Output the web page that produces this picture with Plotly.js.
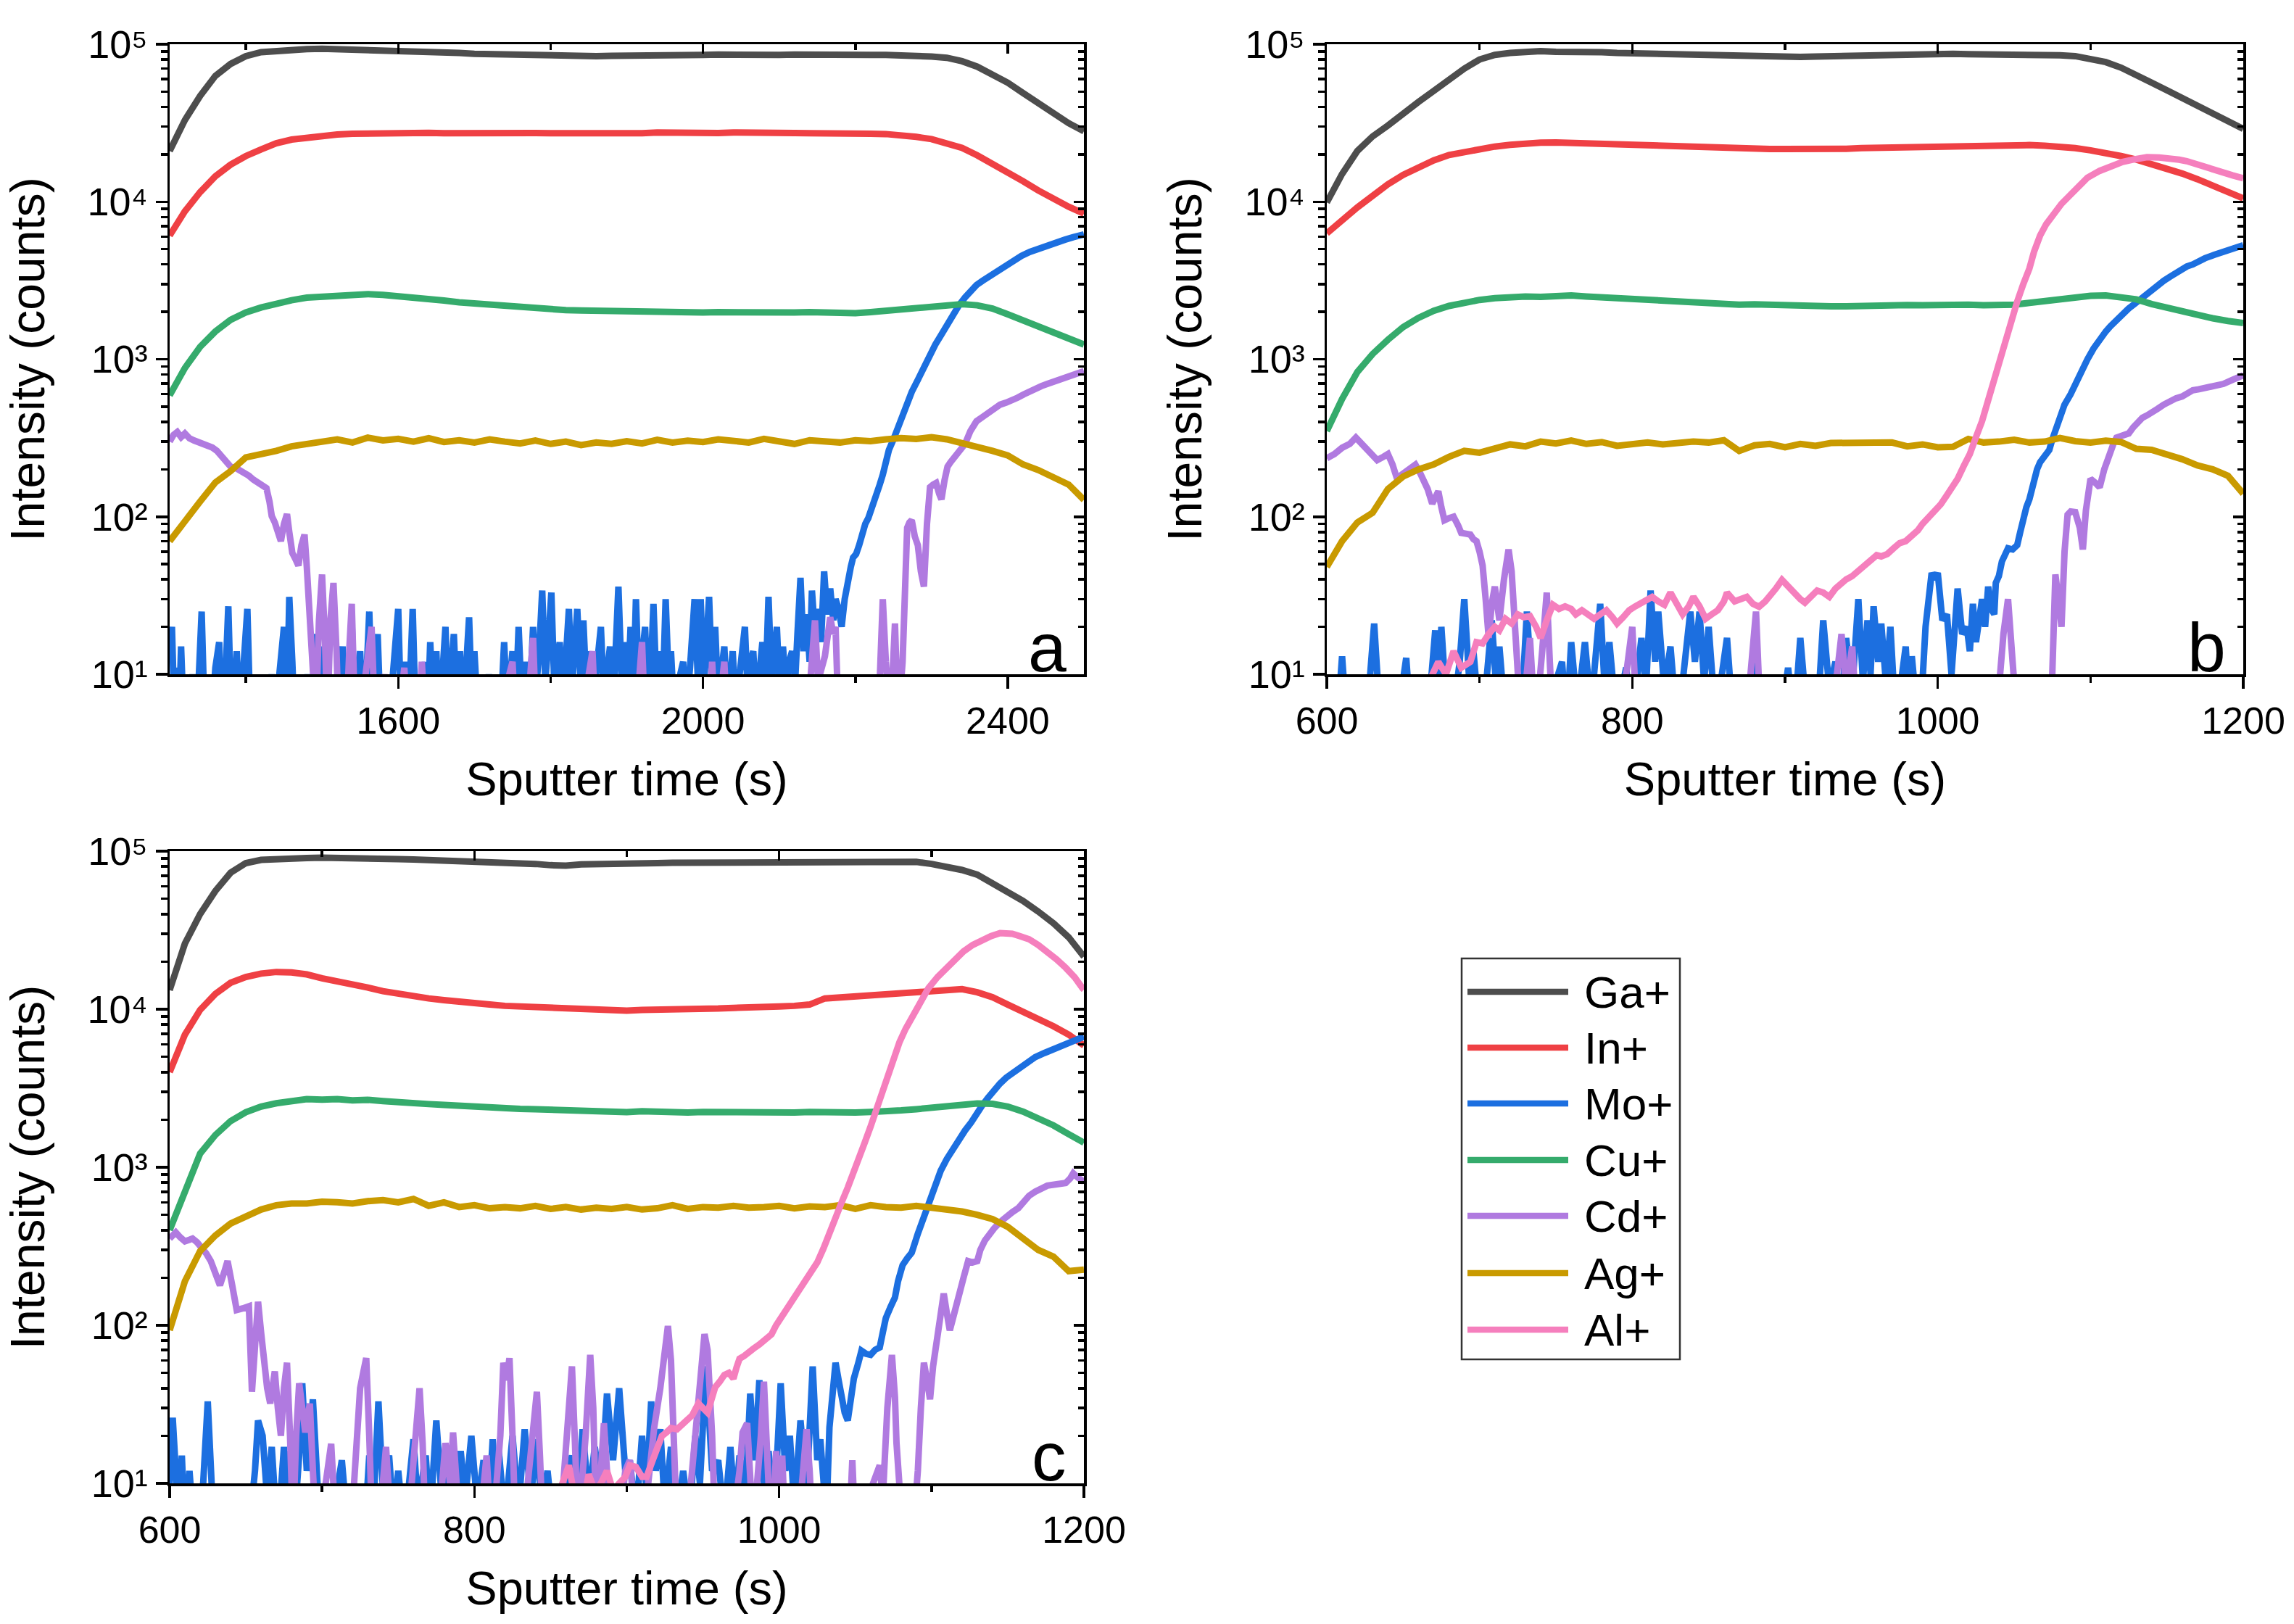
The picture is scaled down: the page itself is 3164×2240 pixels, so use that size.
<!DOCTYPE html>
<html><head><meta charset="utf-8">
<script src="https://cdn.plot.ly/plotly-3.0.1.min.js"></script>
<style>html,body{margin:0;padding:0;background:#fff}#chart{width:3164px;height:2240px}</style>
</head><body><div id="chart"></div>
<script>
// ---------------- DATA ----------------
const species = ['Ga+','In+','Mo+','Cu+','Cd+','Ag+','Al+'];
const colors = {'Ga+':'#4d4d4d','In+':'#ef4044','Mo+':'#1c6fe0','Cu+':'#35ab6c','Cd+':'#b07ae0','Ag+':'#c99a00','Al+':'#f57fbd'};
const yTickVals = [10,100,1000,10000,100000];
const yTickText = ['10\u00B9','10\u00B2','10\u00B3','10\u2074','10\u2075'];

// Panel a (sputter time grid, s)
const a_t = [1300,1320,1340,1360,1380,1400,1420,1440,1460,1480,1500,1520,1540,1560,1580,1600,1620,1640,1660,1680,1700,1720,1740,1760,1780,1800,1820,1840,1860,1880,1900,1920,1940,1960,1980,2000,2020,2040,2060,2080,2100,2120,2140,2160,2180,2200,2220,2240,2260,2280,2300,2320,2340,2360,2380,2400,2420,2440,2460,2480,2500];
const a_Ga = [21000,33000,47000,63000,75000,84000,89000,91000,92500,93000,93500,93000,93500,92500,92000,91500,90500,89500,89000,88000,87000,86500,85500,85000,84500,84000,84000,84500,84000,84500,85000,85000,85500,85000,85500,85500,86000,85500,85500,86000,85500,86000,85500,85500,86000,85500,85500,85500,85000,85000,83500,82000,78000,72000,64000,57000,49000,42000,36000,31500,28000];
const a_In = [6100,8700,11500,14500,17200,19500,21500,23500,24800,25600,26200,26700,27000,27200,27100,27300,27200,27400,27200,27300,27100,27300,27200,27100,27300,27200,27100,27300,27200,27400,27300,27200,27500,27300,27400,27200,27300,27500,27300,27200,27400,27300,27200,27300,27100,27200,27000,26900,26500,25800,25000,23500,22000,19700,17500,15500,13500,11800,10400,9300,8400];
const a_Cu = [590,880,1200,1500,1780,1980,2130,2260,2370,2460,2500,2540,2560,2590,2560,2520,2460,2410,2360,2300,2260,2220,2170,2120,2100,2070,2050,2040,2030,2010,2000,2000,1990,2000,1990,1980,1990,1980,1990,1970,1990,1980,1990,1970,1950,1960,1990,2030,2070,2130,2190,2220,2240,2200,2100,1930,1760,1600,1460,1340,1240];
const a_Ag = [70,92,125,165,195,238,248,262,280,290,300,310,296,318,305,312,300,315,298,306,296,310,300,292,305,290,300,285,296,290,302,292,308,296,304,298,310,300,296,312,302,290,306,300,296,306,302,310,316,312,320,310,295,282,262,245,215,198,180,160,128];
const a_Mo = [[1300,12],[1303,20],[1306,6],[1309,11],[1312,5],[1315,15],[1318,6],[1322,8],[1326,5],[1330,10],[1334,5],[1338,9],[1342,25],[1346,5],[1350,8],[1355,5],[1360,11],[1365,16],[1368,5],[1373,9],[1377,27],[1381,5],[1385,8],[1388,14],[1392,5],[1397,10],[1402,26],[1406,5],[1412,8],[1418,5],[1424,7],[1430,5],[1434,10],[1438,5],[1444,9],[1450,20],[1454,6],[1457,31],[1461,12],[1464,5],[1470,8],[1476,5],[1481,10],[1486,5],[1492,18],[1496,6],[1500,15],[1504,5],[1510,9],[1516,5],[1522,8],[1527,15],[1531,5],[1535,9],[1539,22],[1543,6],[1547,11],[1550,14],[1554,5],[1558,9],[1562,25],[1566,6],[1570,10],[1573,18],[1577,5],[1582,8],[1588,5],[1594,11],[1600,26],[1604,5],[1609,12],[1614,6],[1619,26],[1623,5],[1628,9],[1632,5],[1635,12],[1639,6],[1642,16],[1646,6],[1650,14],[1654,5],[1658,10],[1662,20],[1666,6],[1669,11],[1673,18],[1677,6],[1681,14],[1685,5],[1689,11],[1693,23],[1697,6],[1700,14],[1705,5],[1710,9],[1715,5],[1719,10],[1724,5],[1729,8],[1734,5],[1739,16],[1743,6],[1747,10],[1750,14],[1754,6],[1758,20],[1762,7],[1767,12],[1772,6],[1777,20],[1781,8],[1785,14],[1789,34],[1793,9],[1797,16],[1801,33],[1805,8],[1809,12],[1812,16],[1816,6],[1820,12],[1824,26],[1828,8],[1832,14],[1835,26],[1839,10],[1843,22],[1847,8],[1851,14],[1855,6],[1860,11],[1866,20],[1870,7],[1874,11],[1878,15],[1882,6],[1886,14],[1889,36],[1893,10],[1897,16],[1901,7],[1905,20],[1909,9],[1912,30],[1916,8],[1920,14],[1924,20],[1928,7],[1932,12],[1935,28],[1939,8],[1943,14],[1947,7],[1951,30],[1955,9],[1958,14],[1962,6],[1968,9],[1974,12],[1978,6],[1983,11],[1989,30],[1993,10],[1997,30],[2001,8],[2004,14],[2008,31],[2012,9],[2016,20],[2020,7],[2024,11],[2028,15],[2032,6],[2036,10],[2039,14],[2043,6],[2048,10],[2055,20],[2059,7],[2062,12],[2066,14],[2070,6],[2074,10],[2078,16],[2082,8],[2086,31],[2090,9],[2094,14],[2097,20],[2101,7],[2105,15],[2109,8],[2113,12],[2117,14],[2121,9],[2124,18],[2128,41],[2132,14],[2136,24],[2140,12],[2143,34],[2147,18],[2151,26],[2155,16],[2159,45],[2163,24],[2167,35],[2171,22],[2174,30],[2178,26],[2182,20],[2186,30],[2190,41],[2194,48],[2197,55],[2201,58],[2205,66],[2209,80],[2213,90],[2217,98],[2220,107],[2224,120],[2228,137],[2232,160],[2236,185],[2240,220],[2244,265],[2250,310],[2255,359],[2261,430],[2267,515],[2274,620],[2282,740],[2290,900],[2298,1062],[2305,1240],[2313,1435],[2321,1680],[2328,1940],[2336,2200],[2344,2470],[2351,2720],[2359,2960],[2367,3150],[2375,3340],[2382,3550],[2390,3770],[2398,4000],[2406,4250],[2418,4530],[2429,4800],[2440,5030],[2452,5250],[2463,5500],[2475,5740],[2486,5960],[2498,6180],[2500,6200]];
const a_Cd = [[1300,300],[1305,330],[1310,345],[1315,320],[1320,338],[1326,315],[1332,305],[1338,298],[1344,290],[1350,285],[1356,275],[1362,262],[1368,245],[1374,222],[1380,208],[1386,205],[1392,198],[1398,190],[1404,182],[1410,172],[1416,165],[1422,158],[1427,152],[1431,125],[1434,101],[1438,92],[1442,80],[1446,70],[1450,90],[1454,104],[1457,80],[1461,59],[1465,54],[1469,49],[1473,66],[1477,77],[1480,48],[1484,27],[1488,12],[1492,5],[1496,22],[1500,43],[1504,16],[1507,5],[1511,22],[1515,38],[1519,14],[1522,5],[1527,8],[1532,5],[1536,15],[1539,28],[1543,6],[1550,5],[1556,9],[1560,14],[1565,20],[1569,6],[1576,5],[1582,10],[1586,5],[1594,8],[1600,5],[1608,11],[1612,5],[1620,6],[1627,5],[1631,12],[1635,5],[1645,7],[1652,5],[1662,9],[1668,5],[1680,6],[1690,5],[1700,8],[1706,5],[1720,7],[1730,5],[1750,12],[1754,5],[1772,8],[1777,17],[1781,5],[1800,6],[1810,5],[1830,7],[1840,5],[1855,14],[1859,5],[1880,6],[1890,5],[1916,9],[1920,16],[1924,5],[1950,6],[1960,5],[2000,7],[2008,5],[2012,12],[2016,5],[2024,8],[2028,12],[2032,5],[2060,6],[2070,5],[2100,7],[2110,5],[2140,8],[2147,22],[2151,9],[2160,13],[2167,23],[2171,18],[2174,20],[2178,5],[2200,6],[2230,5],[2236,30],[2240,12],[2246,5],[2252,21],[2256,5],[2262,12],[2268,85],[2271,92],[2274,95],[2278,75],[2282,66],[2286,45],[2290,36],[2294,90],[2298,154],[2302,160],[2306,164],[2310,140],[2313,129],[2317,170],[2321,208],[2325,222],[2329,235],[2336,262],[2344,290],[2351,350],[2359,404],[2367,430],[2375,457],[2382,490],[2390,515],[2398,530],[2406,547],[2413,570],[2421,598],[2429,625],[2436,656],[2444,675],[2452,697],[2463,725],[2475,762],[2486,800],[2498,834],[2500,840]];

// Panels b and c (sputter time grid, s)
const bc_t = [600,610,620,630,640,650,660,670,680,690,700,710,720,730,740,750,760,770,780,790,800,810,820,830,840,850,860,870,880,890,900,910,920,930,940,950,960,970,980,990,1000,1010,1020,1030,1040,1050,1060,1070,1080,1090,1100,1110,1120,1130,1140,1150,1160,1170,1180,1190,1200];

const b_Ga = [9900,15000,21000,26000,30500,36500,43000,50500,59500,70000,80000,85500,88000,90000,90500,89500,90000,90500,89000,88000,87500,87000,86000,85500,85000,84500,84000,84000,83500,83000,82500,83000,83500,84000,84500,85000,85500,86000,86500,86500,86500,87000,86500,86500,86000,86000,85500,85500,85000,84000,81000,77000,71000,63000,57000,51000,45500,41000,36500,32500,29000];
const b_In = [6300,7700,9200,10900,12900,14800,16500,18300,19800,20700,21600,22400,23000,23500,23700,23800,23600,23500,23300,23200,23100,22900,22800,22600,22300,22100,22000,21800,21700,21600,21600,21500,21600,21700,21700,21900,22000,22200,22400,22600,22700,22900,23000,23100,23100,23000,22900,22700,22400,21900,21200,20500,19500,18500,17400,16300,15100,13900,12700,11600,10500];
const b_Cu = [350,560,830,1080,1330,1600,1830,2030,2180,2300,2380,2440,2480,2500,2490,2520,2540,2500,2470,2440,2420,2380,2340,2320,2290,2260,2240,2220,2230,2210,2220,2200,2180,2170,2170,2190,2180,2200,2210,2200,2220,2210,2220,2200,2190,2220,2280,2340,2420,2490,2530,2540,2480,2400,2240,2120,2000,1900,1820,1750,1700];
const b_Ag = [48,70,92,106,150,180,200,215,240,262,255,270,288,280,300,292,305,290,298,282,292,296,288,292,300,296,306,262,284,290,276,290,282,294,296,298,294,296,280,288,276,278,312,296,300,308,296,300,316,302,296,304,298,270,266,250,232,212,200,182,140];
const b_Mo = [[600,6],[604,5],[608,7],[610,13],[613,5],[620,6],[626,5],[631,21],[635,5],[640,6],[646,5],[652,12.7],[655,5],[660,6],[666,5],[671,19],[673,8],[675,20],[679,5],[684,7],[687,12],[690,30],[693,10],[696,14],[700,5],[704,8],[708,22],[711,8],[713,15],[717,5],[722,9],[727,5],[731,25],[735,6],[740,8],[745,5],[750,9],[754,12],[757,5],[760,16],[764,6],[769,16],[773,6],[779,28],[782,8],[785,16],[789,6],[793,8],[796,11],[800,5],[806,17],[809,8],[812,34],[815,12],[817,25],[821,8],[825,15],[829,5],[833,9],[838,25],[841,12],[844,25],[847,9],[850,20],[854,6],[858,9],[862,17],[866,5],[872,7],[877,5],[881,12],[885,5],[892,7],[897,5],[902,11],[906,5],[910,17],[914,6],[918,9],[921,5],[925,22],[929,8],[933,12],[937,6],[940,17],[944,8],[948,30],[951,9],[954,22],[956,10],[958,27],[961,12],[963,21],[966,9],[969,20],[972,6],[976,9],[979,15],[981,7],[983,13],[987,5],[990,9],[992,20],[994,28],[996,44],[998,40],[1000,44],[1003,22],[1006,24],[1009,10],[1013,35],[1016,18],[1019,20],[1021,14],[1023,28],[1025,16],[1027,24],[1029,30],[1031,20],[1033,36],[1035,26],[1037,24],[1038,38],[1040,42],[1042,52],[1044,58],[1046,63],[1049,62],[1052,66],[1054,80],[1056,101],[1058,115],[1060,129],[1063,174],[1065,200],[1067,222],[1070,240],[1073,265],[1075,310],[1077,359],[1080,430],[1083,515],[1087,600],[1090,697],[1094,840],[1098,1000],[1102,1170],[1106,1350],[1110,1500],[1113,1620],[1117,1780],[1121,1940],[1125,2100],[1129,2250],[1133,2430],[1137,2620],[1141,2800],[1144,2960],[1148,3150],[1152,3340],[1156,3560],[1160,3770],[1163,3880],[1167,4000],[1171,4200],[1175,4380],[1181,4600],[1187,4800],[1193,5020],[1198,5250],[1200,5300]];
const b_Cd = [[600,235],[605,250],[610,274],[615,290],[619,318],[623,290],[627,265],[630,245],[633,229],[637,240],[640,250],[643,215],[646,174],[649,185],[652,196],[655,205],[658,214],[661,190],[663,174],[666,150],[669,121],[671,135],[673,145],[675,115],[677,95],[680,98],[683,100],[686,88],[688,79],[691,78],[694,77],[696,72],[698,70],[700,60],[702,49],[704,30],[706,17],[708,28],[710,36],[712,26],[713,22],[716,40],[719,62],[721,45],[723,25],[725,12],[727,5],[730,8],[733,17],[735,8],[737,5],[741,14],[744,33],[746,12],[748,5],[756,6],[764,5],[779,7],[790,5],[796,10],[800,20],[803,5],[815,6],[829,5],[840,6],[860,5],[877,9],[881,25],[884,5],[900,6],[920,5],[934,10],[937,18],[940,8],[944,15],[947,5],[970,6],[990,5],[1010,6],[1025,5],[1040,8],[1043,18],[1046,30],[1049,12],[1052,5],[1074,5],[1077,43],[1079,30],[1081,20],[1083,60],[1085,103],[1087,108],[1090,107],[1093,85],[1095,62],[1097,110],[1100,174],[1103,165],[1106,154],[1109,200],[1112,250],[1115,290],[1117,318],[1121,325],[1125,338],[1128,370],[1131,404],[1134,425],[1137,440],[1141,460],[1144,485],[1148,515],[1152,547],[1156,565],[1160,580],[1163,610],[1167,636],[1171,645],[1175,655],[1181,675],[1187,697],[1193,740],[1198,785],[1200,790]];
const b_Al = [[667,9],[673,12],[678,10],[683,14],[688,11],[694,12],[698,16],[702,15.7],[706,18],[710,20],[713,19],[717,22.5],[721,21],[725,24],[729,23],[733,23.4],[737,20],[740,17],[744,22],[748,27.6],[752,26],[756,27],[760,26],[763,24],[767,25.5],[771,24],[775,22.5],[779,24],[783,25.5],[787,23],[790,21],[794,23],[798,25.5],[802,27],[806,28.5],[810,30],[813,31],[817,29],[821,27.6],[825,33],[829,28],[833,24],[837,27],[840,31],[844,27],[848,22.5],[852,24],[856,25.5],[860,29],[862,33],[867,29],[871,30],[875,31],[879,28],[883,26.8],[887,29],[890,32],[894,35],[898,39.7],[902,36],[906,32],[910,30],[913,28.5],[917,31],[921,34],[925,33],[929,31],[933,35],[937,38.5],[940,40],[944,42],[948,45],[952,49],[956,52],[960,57],[963,56],[967,58],[971,63],[975,68],[979,70],[983,75],[987,82],[990,90],[994,98],[998,107],[1002,120],[1006,137],[1010,155],[1013,174],[1017,210],[1021,250],[1025,320],[1029,405],[1033,550],[1037,740],[1040,1000],[1044,1350],[1048,1800],[1052,2320],[1056,3000],[1060,3770],[1063,4800],[1067,6100],[1071,7200],[1075,8250],[1081,9700],[1087,11100],[1093,12700],[1098,14200],[1106,15700],[1114,17000],[1121,17900],[1129,18600],[1137,19200],[1145,19100],[1152,18900],[1158,18500],[1163,18100],[1169,17300],[1175,16500],[1181,15800],[1187,15200],[1193,14700],[1200,14100]];

const c_Ga = [13200,26000,40000,56000,73000,84000,88000,89500,90000,90500,91000,91000,90500,90000,89500,89000,88500,88000,87500,86500,85500,84500,84000,83500,83000,81500,81000,82500,82500,83000,83500,83500,84000,84500,84500,85000,85000,85500,85500,86000,86000,85500,86000,85500,86000,85500,86000,86000,86000,85500,83000,79500,76000,71000,63000,55000,48500,41500,35000,28500,21500];
const c_In = [4000,6900,9900,12500,14700,16000,16800,17200,17100,16600,15700,15100,14500,13700,13000,12500,12100,11700,11400,11100,10900,10700,10500,10400,10300,10200,10100,10000,9900,9800,9800,9900,9900,10000,10100,10100,10100,10200,10200,10300,10400,10500,10700,11700,11900,12100,12200,12500,12700,13000,13200,13300,13400,12800,11900,10700,9700,8800,7800,6900,5900];
const c_Cu = [400,720,1220,1600,1960,2230,2420,2540,2620,2700,2680,2700,2650,2670,2620,2600,2590,2510,2480,2440,2420,2400,2360,2340,2330,2310,2290,2300,2260,2240,2230,2260,2240,2250,2220,2240,2230,2250,2220,2240,2230,2220,2240,2220,2230,2220,2240,2250,2290,2330,2370,2430,2500,2530,2520,2420,2250,2040,1840,1620,1430];
const c_Ag = [93,190,295,370,440,490,540,575,590,590,605,600,590,610,620,600,630,570,600,560,575,550,560,550,570,545,560,540,555,545,560,540,550,575,545,560,555,570,555,560,570,550,565,560,575,545,575,560,555,570,555,535,525,500,470,420,355,300,272,220,225];
const c_Mo = [[600,10],[602,26],[604,12],[606,6],[608,15],[610,5],[613,12],[616,5],[620,6],[622,10],[625,33],[628,8],[633,6],[640,5],[646,7],[652,5],[656,12],[658,25],[661,20],[664,8],[667,17],[670,6],[673,9],[675,17],[677,8],[679,16],[682,6],[685,15],[687,43],[690,12],[692,20],[694,34],[697,10],[702,5],[708,7],[713,14],[717,5],[723,7],[728,5],[731,15],[734,8],[737,33],[740,9],[744,15],[747,6],[750,12],[754,5],[757,9],[760,19],[763,7],[768,15],[771,6],[775,25],[779,7],[783,15],[787,6],[791,16],[794,8],[798,20],[802,7],[806,14],[809,6],[812,19],[814,9],[816,16],[820,6],[825,20],[829,7],[833,22],[837,8],[841,19],[844,7],[848,12],[852,5],[858,7],[864,15],[867,6],[871,22],[875,8],[879,17],[883,9],[887,37],[891,14],[895,40],[899,12],[902,14],[906,6],[910,20],[913,9],[916,33],[919,12],[922,22],[925,7],[929,17],[933,6],[937,12],[941,6],[945,20],[948,10],[952,55],[956,12],[960,14],[964,6],[968,17],[971,7],[974,15],[978,9],[981,37],[984,14],[987,45],[990,10],[993,16],[997,7],[1001,43],[1004,12],[1007,20],[1010,7],[1014,25],[1018,9],[1022,55],[1025,14],[1027,19],[1029,8],[1031,6],[1033,22.6],[1035,40],[1037,58],[1039,45],[1041,35],[1043,28],[1045,25],[1047,35],[1049,46],[1052,58],[1054,69],[1057,66],[1060,65],[1063,70],[1066,72.5],[1068,90],[1070,111],[1073,130],[1076,150],[1078,190],[1081,240],[1084,265],[1087,288],[1091,380],[1095,490],[1099,620],[1103,788],[1106,950],[1110,1127],[1114,1310],[1118,1515],[1122,1710],[1126,1920],[1129,2150],[1133,2440],[1137,2750],[1141,3090],[1145,3390],[1149,3690],[1153,3930],[1157,4160],[1162,4550],[1168,4970],[1174,5280],[1180,5590],[1186,5950],[1191,6300],[1195,6500],[1199,6680],[1200,6700]];
const c_Cd = [[600,354],[602,370],[604,387],[607,360],[610,340],[613,348],[615,354],[618,335],[621,314],[624,285],[627,255],[630,215],[633,179],[636,220],[638,255],[641,180],[644,125],[648,128],[652,132],[654,38],[656,90],[658,141],[660,90],[662,58],[664,40],[666,32],[668,45],[669,51],[671,30],[673,20],[675,40],[677,58],[679,20],[681,5],[683,20],[685,43],[687,30],[689,21],[691,28],[692,32],[694,12],[696,5],[701,8],[704,12],[706,17.8],[708,8],[710,5],[720,7],[723,20],[725,40],[727,50],[729,62],[731,20],[733,5],[739,8],[742,17],[745,6],[750,5],[758,8],[762,25],[764,40],[766,18],[768,5],[778,8],[781,18],[784,10],[786,21],[789,8],[792,5],[804,6],[808,15],[810,7],[812,5],[817,20],[819,58],[821,45],[823,62],[825,20],[827,5],[834,8],[838,20],[841,38],[843,15],[845,5],[858,9],[861,20],[864,55],[866,18],[868,5],[873,20],[876,65],[878,30],[880,5],[883,12],[885,24],[887,12],[890,5],[897,8],[899,12],[902,14],[904,7],[906,5],[913,8],[916,15],[918,22.6],[922,40],[925,70],[927,99],[929,60],[931,20],[933,5],[940,6],[943,12],[945,21],[948,40],[951,88],[953,70],[954,51],[956,20],[958,5],[970,6],[974,12],[976,21],[979,24],[981,12],[983,5],[988,20],[990,44],[993,10],[996,6],[998,16],[1000,8],[1002,15],[1004,5],[1015,10],[1018,22],[1020,12],[1022,5],[1046,5],[1048,14],[1050,5],[1066,13],[1068,8],[1071,30],[1074,65],[1076,35],[1077,18],[1079,9],[1081,5],[1088,5],[1091,12],[1093,30],[1095,58],[1097,45],[1099,34],[1101,55],[1103,78],[1105,110],[1108,159],[1110,120],[1112,93],[1115,120],[1118,150],[1121,200],[1124,255],[1127,250],[1130,255],[1132,300],[1135,344],[1138,380],[1141,410],[1145,450],[1149,490],[1153,520],[1157,552],[1160,600],[1164,660],[1168,700],[1172,730],[1176,765],[1182,780],[1188,795],[1191,850],[1193,915],[1196,860],[1199,813],[1200,810]];
const c_Al = [[856,9],[859,11],[862,13],[865,9],[868,6],[872,8],[875,11.4],[879,9],[883,10],[887,12],[891,9],[895,10],[899,11],[902,13],[906,12.7],[910,11],[913,11],[917,14],[920,17],[923,19.9],[926,21],[929,22.4],[933,22],[937,23.8],[940,25],[943,27],[947,32],[950,30],[953,28],[956,35],[958,40.6],[961,44],[964,48.5],[967,50],[970,46],[972,54],[974,61.5],[977,64],[979,67],[983,71],[987,75.6],[991,82],[995,87.8],[998,100],[1002,115],[1006,132],[1010,150],[1014,174],[1017,190],[1021,214],[1025,250],[1029,305],[1033,390],[1037,491],[1041,600],[1045,743],[1049,920],[1052,1127],[1056,1420],[1060,1810],[1064,2350],[1068,3090],[1071,3900],[1075,4970],[1079,6200],[1083,7520],[1087,8800],[1091,10100],[1095,11900],[1098,13600],[1104,16000],[1110,18300],[1116,20900],[1121,23200],[1127,25500],[1133,27400],[1139,29000],[1145,30300],[1149,30500],[1153,30000],[1158,29000],[1164,27700],[1170,25500],[1176,23200],[1182,20700],[1188,18300],[1194,15900],[1199,13600],[1200,13300]];

// ---------------- BUILD ----------------
const FONT = '"Liberation Sans", Arial, Helvetica, sans-serif';
const LW = 9;
function grid(t, v, name, xa, ya){
  return {type:'scatter', mode:'lines', x:t, y:v, name:name, xaxis:xa, yaxis:ya,
    line:{color:colors[name], width:LW}, showlegend:false, hoverinfo:'skip'};
}
function pairs(p, name, xa, ya){
  return grid(p.map(d=>d[0]), p.map(d=>d[1]), name, xa, ya);
}
function overlayDummy(xa, ya){
  return {type:'scatter', mode:'lines', x:[], y:[], xaxis:xa, yaxis:ya, showlegend:false, hoverinfo:'skip'};
}

const traces = [
  grid(a_t, a_Ga, 'Ga+', 'x', 'y'),
  grid(a_t, a_In, 'In+', 'x', 'y'),
  pairs(a_Mo, 'Mo+', 'x', 'y'),
  grid(a_t, a_Cu, 'Cu+', 'x', 'y'),
  pairs(a_Cd, 'Cd+', 'x', 'y'),
  grid(a_t, a_Ag, 'Ag+', 'x', 'y'),

  grid(bc_t, b_Ga, 'Ga+', 'x2', 'y2'),
  grid(bc_t, b_In, 'In+', 'x2', 'y2'),
  pairs(b_Mo, 'Mo+', 'x2', 'y2'),
  grid(bc_t, b_Cu, 'Cu+', 'x2', 'y2'),
  pairs(b_Cd, 'Cd+', 'x2', 'y2'),
  grid(bc_t, b_Ag, 'Ag+', 'x2', 'y2'),
  pairs(b_Al, 'Al+', 'x2', 'y2'),

  grid(bc_t, c_Ga, 'Ga+', 'x3', 'y3'),
  grid(bc_t, c_In, 'In+', 'x3', 'y3'),
  pairs(c_Mo, 'Mo+', 'x3', 'y3'),
  grid(bc_t, c_Cu, 'Cu+', 'x3', 'y3'),
  pairs(c_Cd, 'Cd+', 'x3', 'y3'),
  grid(bc_t, c_Ag, 'Ag+', 'x3', 'y3'),
  pairs(c_Al, 'Al+', 'x3', 'y3'),

  overlayDummy('x4','y4'), overlayDummy('x5','y5'), overlayDummy('x6','y6')
];

const minorY = [];
for (let e = 1; e < 5; e++) for (let d = 2; d <= 9; d++) minorY.push(d * Math.pow(10, e));

const ALW = 3.5;
function xMain(domain, range, dtick, mdtick, anchor){
  return {domain:domain, range:range, type:'linear', anchor:anchor, tickmode:'linear', tick0:0, dtick:dtick,
    ticks:'outside', ticklen:16, tickwidth:ALW, tickcolor:'#000', showline:true, linewidth:ALW, linecolor:'#000',
    mirror:false, showgrid:false, zeroline:false, automargin:false,
    tickfont:{family:FONT, size:52, color:'#000'},
    minor:{tick0:0, dtick:mdtick, ticks:'outside', ticklen:8, tickwidth:ALW, tickcolor:'#000', showgrid:false},
    title:{text:'Sputter time (s)', font:{family:FONT, size:65, color:'#000'}, standoff:30}};
}
function xTop(over, range, dtick, mdtick, anchor){
  return {overlaying:over, side:'top', anchor:anchor, range:range, type:'linear', tickmode:'linear', tick0:0, dtick:dtick,
    ticks:'inside', ticklen:13, tickwidth:ALW, tickcolor:'#000', showline:true, linewidth:ALW, linecolor:'#000',
    showticklabels:false, showgrid:false, zeroline:false, automargin:false,
    minor:{tick0:0, dtick:mdtick, ticks:'inside', ticklen:8, tickwidth:ALW, tickcolor:'#000', showgrid:false}};
}
function yMain(domain, anchor){
  return {domain:domain, anchor:anchor, type:'log', range:[1,5], tickmode:'array', tickvals:yTickVals, ticktext:yTickText,
    ticks:'outside', ticklen:16, tickwidth:ALW, tickcolor:'#000', showline:true, linewidth:ALW, linecolor:'#000',
    mirror:false, showgrid:false, zeroline:false, automargin:false,
    tickfont:{family:FONT, size:54, color:'#000'},
    minor:{tickmode:'array', tickvals:minorY, ticks:'outside', ticklen:9, tickwidth:ALW, tickcolor:'#000', showgrid:false},
    title:{text:'Intensity (counts)', font:{family:FONT, size:66, color:'#000'}, standoff:38}};
}
function yRight(over, anchor){
  return {overlaying:over, side:'right', anchor:anchor, type:'log', range:[1,5], tickmode:'array', tickvals:yTickVals,
    ticks:'inside', ticklen:14, tickwidth:ALW, tickcolor:'#000', showline:true, linewidth:ALW, linecolor:'#000',
    showticklabels:false, showgrid:false, zeroline:false, automargin:false,
    minor:{tickmode:'array', tickvals:minorY, ticks:'inside', ticklen:8, tickwidth:ALW, tickcolor:'#000', showgrid:false}};
}

const W = 3164, H = 2240;
const px = v => v / W, py = v => 1 - v / H;
const dA = {x:[px(234), px(1495)], y:[py(930), py(61)]};
const dB = {x:[px(1830), px(3094)], y:[py(930), py(61)]};
const dC = {x:[px(234), px(1495)], y:[py(2046), py(1174)]};

// legend (drawn in paper space)
const legY = [1368,1445,1522,1600,1677,1756,1834];
const shapes = [{type:'rect', xref:'paper', yref:'paper', x0:px(2016), x1:px(2317), y0:py(1875), y1:py(1322),
  line:{color:'#333', width:2.5}, fillcolor:'rgba(0,0,0,0)'}];
const annotations = [];
species.forEach((s, i) => {
  shapes.push({type:'line', xref:'paper', yref:'paper', x0:px(2024), x1:px(2163), y0:py(legY[i]), y1:py(legY[i]),
    line:{color:colors[s], width:8.5}});
  annotations.push({xref:'paper', yref:'paper', x:px(2183), y:py(legY[i]), xanchor:'left', yanchor:'middle',
    text:s, showarrow:false, font:{family:FONT, size:62, color:'#000'}});
});
[['a', 1473, 930], ['b', 3072, 930], ['c', 1473, 2046]].forEach(l => {
  annotations.push({xref:'paper', yref:'paper', x:px(l[1]), y:py(l[2]), xanchor:'right', yanchor:'bottom', yshift:-18,
    text:l[0], showarrow:false, font:{family:FONT, size:95, color:'#000'}});
});

const layout = {
  width:W, height:H, margin:{l:0, r:0, t:0, b:0, pad:0},
  paper_bgcolor:'#fff', plot_bgcolor:'rgba(0,0,0,0)', showlegend:false,
  font:{family:FONT, color:'#000'},
  xaxis: xMain(dA.x, [1300,2500], 400, 200, 'y'),
  yaxis: yMain(dA.y, 'x'),
  xaxis2: xMain(dB.x, [600,1200], 200, 100, 'y2'),
  yaxis2: yMain(dB.y, 'x2'),
  xaxis3: xMain(dC.x, [600,1200], 200, 100, 'y3'),
  yaxis3: yMain(dC.y, 'x3'),
  xaxis4: xTop('x', [1300,2500], 400, 200, 'y4'),
  yaxis4: yRight('y', 'x4'),
  xaxis5: xTop('x2', [600,1200], 200, 100, 'y5'),
  yaxis5: yRight('y2', 'x5'),
  xaxis6: xTop('x3', [600,1200], 200, 100, 'y6'),
  yaxis6: yRight('y3', 'x6'),
  shapes:shapes, annotations:annotations
};
Plotly.newPlot('chart', traces, layout, {staticPlot:true, displayModeBar:false});
</script></body></html>
